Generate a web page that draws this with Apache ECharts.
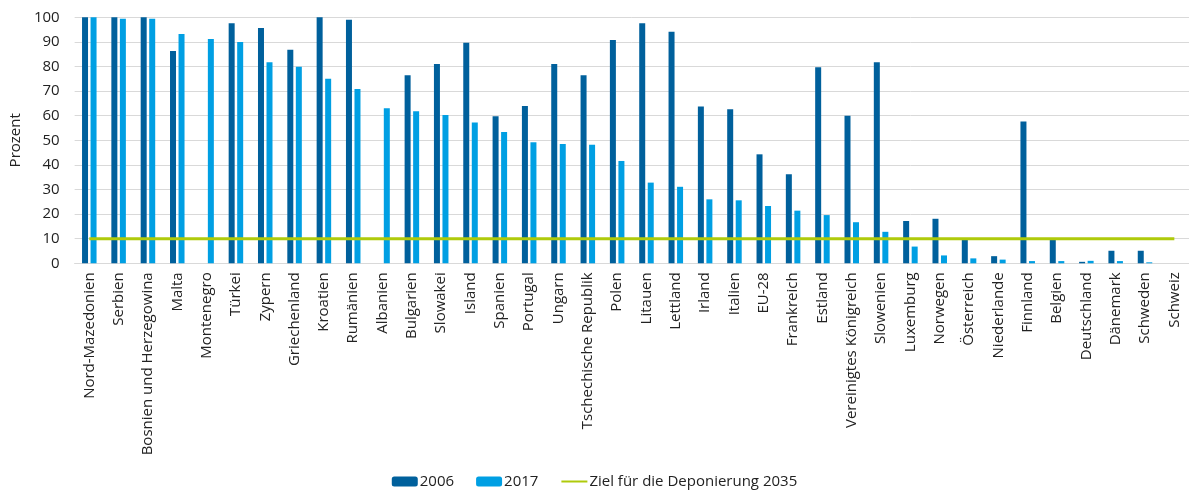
<!DOCTYPE html>
<html>
<head>
<meta charset="utf-8">
<script src="https://cdn.jsdelivr.net/npm/echarts@6/dist/echarts.min.js"></script>
<style>
  html, body { margin: 0; padding: 0; background: #fff; }
  #chart { width: 1189px; height: 490px; }
</style>
</head>
<body>
<div id="chart"></div>
<script>
const categories = [
  'Nord-Mazedonien', 'Serbien', 'Bosnien und Herzegowina', 'Malta', 'Montenegro',
  'Türkei', 'Zypern', 'Griechenland', 'Kroatien', 'Rumänien', 'Albanien',
  'Bulgarien', 'Slowakei', 'Island', 'Spanien', 'Portugal', 'Ungarn',
  'Tschechische Republik', 'Polen', 'Litauen', 'Lettland', 'Irland', 'Italien',
  'EU-28', 'Frankreich', 'Estland', 'Vereinigtes Königreich', 'Slowenien',
  'Luxemburg', 'Norwegen', 'Österreich', 'Niederlande', 'Finnland', 'Belgien',
  'Deutschland', 'Dänemark', 'Schweden', 'Schweiz'
];

// Deponierungsquote in Prozent
const values2006 = [
  100, 100, 100, 86.3, null, 97.6, 95.6, 86.8, 100, 99.0, null,
  76.4, 81.0, 89.7, 59.8, 63.9, 81.0,
  76.4, 90.8, 97.6, 94.1, 63.7, 62.6,
  44.3, 36.2, 79.7, 60.0, 81.7,
  17.2, 18.1, 9.6, 2.9, 57.6, 9.6,
  0.6, 5.1, 5.1, null
];

const values2017 = [
  100, 99.4, 99.4, 93.2, 91.2, 90.0, 81.7, 79.9, 75.0, 70.9, 63.0,
  61.8, 60.3, 57.2, 53.4, 49.2, 48.5,
  48.2, 41.6, 32.8, 31.1, 26.0, 25.6,
  23.3, 21.4, 19.6, 16.7, 12.8,
  6.8, 3.2, 2.0, 1.5, 0.9, 0.9,
  1.0, 0.9, 0.4, null
];

// Ziel 2035: max. 10 %
const target2035 = [
  10, 10, 10, 10, 10, 10, 10, 10, 10, 10, 10, 10, 10, 10, 10, 10, 10, 10, 10,
  10, 10, 10, 10, 10, 10, 10, 10, 10, 10, 10, 10, 10, 10, 10, 10, 10, 10, 10
];

const yTicks = { min: 0, max: 100, interval: 10 };

const chart = echarts.init(document.getElementById('chart'));

const font = "'Open Sans', sans-serif";

const option = {
  animation: false,
  textStyle: { fontFamily: font },
  grid: {
    left: 73.25,
    top: 17.3,
    width: 1121,
    bottom: 226.7,
    containLabel: false
  },
  legend: {
    bottom: -4,
    left: 'center',
    itemWidth: 26,
    itemHeight: 10,
    itemGap: 22,
    textStyle: { fontFamily: font, fontSize: 15, color: '#222', padding: [0, 0, 0, -3] },
    data: [
      '2006',
      '2017',
      { name: 'Ziel für die Deponierung 2035', itemStyle: { opacity: 0 } }
    ]
  },
  xAxis: {
    type: 'category',
    data: categories,
    axisTick: { show: false },
    axisLine: { lineStyle: { color: '#d9d9d9', width: 1 } },
    axisLabel: {
      rotate: 90,
      interval: 0,
      margin: 9,
      fontFamily: font,
      fontSize: 15,
      color: '#222'
    }
  },
  yAxis: {
    type: 'value',
    min: yTicks.min,
    max: yTicks.max,
    interval: yTicks.interval,
    name: 'Prozent',
    nameLocation: 'middle',
    nameGap: 49,
    nameTextStyle: { fontFamily: font, fontSize: 15, color: '#222' },
    axisLine: { show: false },
    axisTick: { show: false },
    axisLabel: { fontFamily: font, fontSize: 15, color: '#222', margin: 15 },
    splitLine: { lineStyle: { color: '#d9d9d9', width: 1 } }
  },
  series: [
    {
      name: '2006',
      type: 'bar',
      data: values2006,
      barWidth: 6,
      barGap: '42%',
      itemStyle: { color: '#00609c' }
    },
    {
      name: '2017',
      type: 'bar',
      data: values2017,
      barWidth: 6,
      itemStyle: { color: '#009fe3' }
    },
    {
      name: 'Ziel für die Deponierung 2035',
      type: 'line',
      data: target2035,
      symbol: 'none',
      lineStyle: { color: '#afca0b', width: 3 },
      itemStyle: { color: '#afca0b' },
      z: 5
    }
  ]
};

chart.setOption(option);
</script>
</body>
</html>
